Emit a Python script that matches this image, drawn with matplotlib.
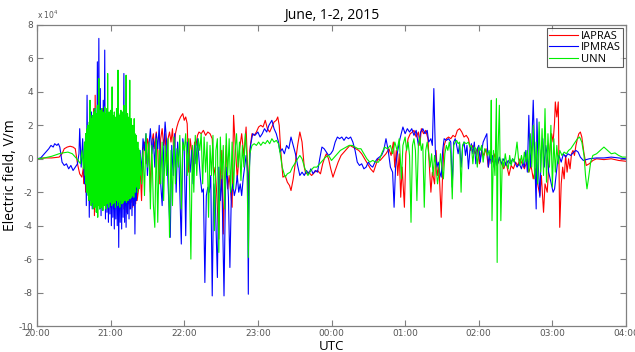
import numpy as np
import matplotlib
matplotlib.use("Agg")
import matplotlib.pyplot as plt
from matplotlib.ticker import FuncFormatter

# Time in hours after 20:00 UTC, field in units of 1e4 V/m
tick_labels = ["20:00", "21:00", "22:00", "23:00", "00:00", "01:00", "02:00", "03:00", "04:00"]
series_names = ["IAPRAS", "IPMRAS", "UNN"]

# IAPRAS (red)
red_start = [(0.00, 0.0), (0.10, 0.05), (0.20, 0.05), (0.30, 0.1), (0.34, 0.3), (0.37, 0.6), (0.41, 0.7),
             (0.45, 0.75), (0.49, 0.7), (0.52, 0.6), (0.55, -0.3), (0.58, -0.9), (0.61, -1.1), (0.63, -0.5)]
# dense part, one value every 0.01 h from 0.64
red_dense = [-1.5, 1.0, -2.0, 1.5, -1.8, 2.0, -2.5, 1.2, -2.2, 2.4, -2.8, 1.8, -2.0, 3.0, -3.4, 3.8,
             -2.5, 2.2, -2.0, 2.8, -2.6, 1.5, -2.2, 2.0, -2.7, 3.0, -2.3, 1.8, -2.5, 2.4, -2.8, 3.0,
             -2.4, 2.0, -2.6, 1.6, -2.9, 2.2, -2.5, 1.8, -3.0, 2.5, -2.6, 1.4, -2.8, 2.0, -3.1, 1.6,
             -2.7, 2.3, -2.9, 2.5, -2.6, 1.2, -3.0, 1.8, -2.8, 1.0, -3.2, 1.5, -2.7, 0.8, -3.0, 1.2,
             -2.6, 0.5, -2.9, 0.8, -2.5, 0.3, -2.7, 0.2, -2.5]
red_end = [
    (1.38, -1.8), (1.40, -0.5), (1.42, -2.5), (1.44, 0.5), (1.46, 1.0), (1.48, -0.3), (1.50, 1.2), (1.52, 0.8),
    (1.54, -2.0), (1.56, 1.0), (1.58, 1.5), (1.60, 0.6), (1.62, 1.6), (1.64, 0.5), (1.66, -1.5), (1.68, 1.2),
    (1.70, 1.8), (1.72, 0.8), (1.74, 1.5), (1.76, -0.5), (1.78, 1.2), (1.80, 1.6), (1.82, 1.0), (1.84, 1.8),
    (1.86, 0.2), (1.88, 1.5), (1.90, 1.9), (1.92, 2.2), (1.95, 2.5), (1.98, 2.7), (2.00, 2.3), (2.02, 2.5),
    (2.04, 2.1), (2.06, -0.8), (2.08, 1.2), (2.10, 0.5), (2.12, -1.0), (2.14, 1.0), (2.16, 0.8), (2.18, 1.4),
    (2.20, 1.6), (2.23, 1.5), (2.26, 1.7), (2.29, 1.4), (2.32, 1.6), (2.35, 1.5), (2.38, 1.2), (2.40, -1.0),
    (2.42, -0.5), (2.44, -2.0), (2.47, -4.8), (2.49, -1.0), (2.51, 0.5), (2.53, -4.5), (2.55, -1.2), (2.57, 0.8),
    (2.59, -1.8), (2.61, -1.0), (2.63, -2.0), (2.65, -2.9), (2.67, 2.6), (2.69, 1.0), (2.72, -1.2), (2.75, 0.5),
    (2.78, 1.5), (2.81, 0.2), (2.84, 1.9), (2.86, -0.5), (2.87, -2.2), (2.89, 0.5), (2.92, 1.5), (2.95, 1.4),
    (2.98, 1.6), (3.01, 1.9), (3.04, 2.0), (3.07, 1.9), (3.10, 2.3), (3.13, 1.8), (3.16, 1.6), (3.19, 1.9),
    (3.22, 2.2), (3.25, 2.3), (3.27, 2.5), (3.29, 2.0), (3.31, 0.5), (3.34, -1.1), (3.37, -1.0), (3.40, -1.4),
    (3.43, -1.6), (3.45, -1.9), (3.48, -1.2), (3.51, -0.2), (3.54, 0.8), (3.57, 1.6), (3.60, 1.0), (3.63, -0.5),
    (3.65, -0.9), (3.69, -0.8), (3.73, -1.0), (3.77, -0.8), (3.81, -0.7), (3.85, -0.9), (3.88, -0.3), (3.91, 0.1),
    (3.93, 0.3), (3.96, 0.0), (3.99, -0.6), (4.02, -1.1), (4.05, -0.7), (4.09, -0.2), (4.13, 0.2), (4.17, 0.4),
    (4.21, 0.6), (4.25, 0.8), (4.29, 0.7), (4.33, 0.6), (4.37, 0.5), (4.41, 0.3), (4.45, 0.0), (4.49, -0.3),
    (4.53, -0.6), (4.57, -0.8), (4.60, -0.4), (4.63, 0.0), (4.66, -0.1), (4.70, 0.1), (4.74, 0.3), (4.78, 0.6),
    (4.81, 0.2), (4.84, 1.0), (4.86, -0.5), (4.88, 0.5), (4.90, -1.0), (4.92, 0.3), (4.94, -2.3), (4.96, -0.5),
    (4.99, -2.9), (5.01, 0.3), (5.04, 1.2), (5.07, 1.5), (5.10, 1.6), (5.12, 1.7), (5.15, 1.3), (5.18, 1.6),
    (5.20, 0.8), (5.22, 1.8), (5.25, 1.5), (5.28, 1.7), (5.31, 1.2), (5.33, -0.5), (5.35, -2.0), (5.37, -0.8),
    (5.40, -1.5), (5.42, 0.5), (5.44, -1.0), (5.46, -0.5), (5.49, -3.5), (5.51, -0.8), (5.53, 0.8), (5.56, 1.2),
    (5.59, 1.3), (5.62, 1.2), (5.65, 1.4), (5.68, 1.3), (5.71, 1.7), (5.74, 1.8), (5.77, 1.6), (5.80, 1.3),
    (5.83, 1.4), (5.86, 1.2), (5.89, 0.5), (5.92, 0.8), (5.95, 0.3), (5.98, 0.6), (6.01, -0.3), (6.04, 0.5),
    (6.07, 0.2), (6.10, 0.6), (6.13, -0.5), (6.16, 0.4), (6.19, -0.2), (6.22, 0.3), (6.25, -0.4), (6.28, 0.0),
    (6.31, -0.3), (6.34, -0.6), (6.37, -0.2), (6.41, -1.0), (6.44, -0.4), (6.47, -0.6), (6.50, -0.2), (6.53, -0.4),
    (6.56, 0.0), (6.59, -0.3), (6.62, -0.6), (6.65, -0.2), (6.68, -0.8), (6.71, -0.4), (6.74, -1.2), (6.77, -0.6),
    (6.80, -1.5), (6.83, -2.2), (6.85, -1.0), (6.88, -3.2), (6.90, -1.5), (6.93, -2.0), (6.95, -0.5), (6.97, 0.8),
    (6.99, 1.5), (7.01, 1.0), (7.03, 2.2), (7.04, 3.4), (7.06, 2.5), (7.08, 3.4), (7.10, -4.1), (7.12, -1.5),
    (7.14, -0.5), (7.16, -1.2), (7.18, 0.2), (7.20, -0.8), (7.22, 0.0), (7.24, -0.6), (7.26, 0.3), (7.28, 0.5),
    (7.30, 0.2), (7.32, 0.8), (7.34, 1.2), (7.36, 1.5), (7.38, 1.6), (7.40, 1.3), (7.43, 0.3), (7.46, -0.4),
    (7.50, -0.3), (7.55, -0.1), (7.60, 0.0), (7.70, -0.05), (7.80, 0.0), (7.90, -0.1), (8.00, -0.15)]

# IPMRAS (blue)
blue_start = [(0.00, 0.0), (0.05, 0.05), (0.08, 0.2), (0.12, 0.4), (0.16, 0.6), (0.19, 0.8), (0.22, 0.7),
              (0.24, 0.9), (0.27, 0.8), (0.29, 0.9), (0.31, 0.7), (0.34, -0.2), (0.37, -0.4), (0.40, -0.3),
              (0.43, -0.6), (0.46, -0.4), (0.49, -0.7), (0.52, -0.5), (0.55, -0.3), (0.57, 0.3), (0.58, 1.8),
              (0.60, -0.5), (0.62, 1.2), (0.64, -1.0)]
# dense part, one value every 0.01 h from 0.65
blue_dense = [-1.5, 1.5, -2.8, 3.8, -1.5, 2.0, -3.5, 1.0, -2.5, 2.8, -3.0, 1.5, -2.0, 3.0, -2.8, 2.0,
              -3.2, 5.8, -2.5, 7.2, -3.0, 4.2, -3.4, 2.5, -3.0, 3.5, -2.6, 6.5, -3.6, 2.0, -3.2, 1.5,
              -3.8, 2.2, -3.3, 1.0, -4.0, 1.8, -3.5, 0.8, -4.2, 1.5, -3.6, 1.0, -4.0, 0.5, -5.3, 1.2,
              -3.8, 0.8, -4.2, 2.0, -3.5, 5.1, -3.8, 1.0, -4.1, 0.5, -3.3, 1.2, -3.6, 0.4, -3.0, 0.8,
              -3.4, 0.2, -2.8, 0.5, -4.5, -0.5, -2.5, -0.8]
blue_end = [
    (1.38, -1.5), (1.40, 0.5), (1.42, -0.8), (1.44, 1.2), (1.46, 0.5), (1.48, 1.5), (1.50, -1.0), (1.52, 0.8),
    (1.54, 1.8), (1.56, 0.3), (1.58, 1.2), (1.60, -0.5), (1.62, 1.5), (1.64, 0.6), (1.66, 2.0), (1.68, -1.5),
    (1.70, -2.8), (1.72, 0.5), (1.74, 2.2), (1.76, 1.0), (1.78, -1.5), (1.81, -4.7), (1.83, 0.8), (1.85, -1.0),
    (1.87, 1.5), (1.89, -2.0), (1.91, 1.0), (1.93, -0.5), (1.96, -5.1), (1.98, 1.2), (2.00, 0.5), (2.02, -4.6),
    (2.04, 1.0), (2.06, 0.2), (2.08, -0.8), (2.10, 0.5), (2.12, -1.5), (2.14, 0.8), (2.16, -0.3), (2.18, 1.2),
    (2.20, 0.0), (2.22, -1.2), (2.24, -2.0), (2.26, -1.8), (2.28, -7.4), (2.30, -2.2), (2.32, -1.7), (2.34, -2.0),
    (2.36, -1.0), (2.38, -8.2), (2.40, -1.5), (2.42, -2.2), (2.45, -7.1), (2.47, -0.5), (2.49, -2.5), (2.51, -1.0),
    (2.54, -8.2), (2.56, -1.8), (2.58, -0.5), (2.60, -2.3), (2.62, -6.5), (2.64, -2.0), (2.66, -1.5), (2.68, -2.2),
    (2.70, -1.8), (2.72, -1.0), (2.74, -2.0), (2.76, -1.5), (2.78, -2.2), (2.80, -1.2), (2.82, -0.5), (2.84, 0.2),
    (2.86, -0.8), (2.87, -8.1), (2.88, -1.0), (2.90, 0.8), (2.93, 1.5), (2.96, 1.4), (3.00, 1.6), (3.03, 1.3),
    (3.06, 1.5), (3.09, 1.8), (3.12, 1.6), (3.15, 2.0), (3.19, 2.3), (3.22, 1.8), (3.25, 1.5), (3.28, 1.0),
    (3.30, 0.4), (3.33, 0.6), (3.36, 0.3), (3.39, 0.8), (3.42, 0.6), (3.45, 1.3), (3.48, 0.8), (3.51, 0.3),
    (3.54, -0.4), (3.57, -1.0), (3.60, -0.8), (3.63, -1.0), (3.66, -0.7), (3.69, -0.9), (3.72, -0.6), (3.75, -0.9),
    (3.78, -0.7), (3.81, -0.8), (3.84, 0.0), (3.87, 0.7), (3.90, 0.6), (3.93, 0.4), (3.96, 0.2), (3.99, 0.3),
    (4.02, 0.5), (4.05, 1.0), (4.08, 1.3), (4.11, 1.2), (4.14, 1.3), (4.17, 1.1), (4.20, 1.3), (4.23, 1.2),
    (4.26, 1.3), (4.29, 1.0), (4.32, 0.5), (4.35, -0.2), (4.38, -0.4), (4.41, -0.3), (4.44, -0.6), (4.47, -0.5),
    (4.50, -0.2), (4.53, -0.4), (4.56, -0.5), (4.59, -0.2), (4.62, 0.0), (4.65, 0.1), (4.68, 0.2), (4.71, 0.5),
    (4.74, 1.2), (4.77, 0.5), (4.80, -0.5), (4.83, -0.8), (4.85, -2.9), (4.87, -0.5), (4.90, 0.5), (4.93, 1.2),
    (4.97, 1.9), (5.00, 1.5), (5.03, 1.8), (5.06, 1.6), (5.09, 1.8), (5.12, 1.4), (5.15, 1.7), (5.18, 0.8),
    (5.21, 1.6), (5.24, 1.8), (5.27, 1.5), (5.30, 1.7), (5.32, 1.0), (5.35, 1.2), (5.37, 0.8), (5.39, 4.2),
    (5.41, 0.5), (5.43, -0.5), (5.45, -0.2), (5.47, -0.8), (5.49, -1.1), (5.51, 0.5), (5.53, 1.2), (5.56, 1.1),
    (5.59, 1.2), (5.62, 1.0), (5.64, -1.7), (5.66, 1.0), (5.68, 1.2), (5.70, 0.8), (5.72, 0.3), (5.74, 0.9),
    (5.76, -0.5), (5.78, 0.7), (5.80, 1.0), (5.82, 0.2), (5.84, 0.8), (5.86, -0.6), (5.88, 0.5), (5.90, 0.9),
    (5.92, 0.3), (5.94, 1.0), (5.96, -0.3), (5.98, 0.6), (6.00, 0.8), (6.02, -0.2), (6.04, 0.5), (6.06, 1.0),
    (6.08, 1.2), (6.11, 1.5), (6.13, -0.5), (6.15, 0.3), (6.17, -0.3), (6.19, 0.2), (6.21, -0.5), (6.23, 0.0),
    (6.25, -0.4), (6.28, 0.1), (6.31, -0.3), (6.34, 0.0), (6.37, -0.4), (6.40, -0.1), (6.43, -0.3), (6.46, 0.0),
    (6.49, -0.2), (6.52, -0.5), (6.55, -0.3), (6.58, -0.6), (6.60, -0.2), (6.62, -0.5), (6.64, 0.5), (6.66, -0.8),
    (6.68, 2.6), (6.70, -0.5), (6.72, 0.8), (6.74, 3.5), (6.76, 0.2), (6.78, -3.0), (6.79, 2.4), (6.81, -0.5),
    (6.83, -2.3), (6.85, 0.5), (6.87, 1.2), (6.89, -0.5), (6.91, 0.8), (6.93, 0.2), (6.95, -0.8), (6.97, -1.2),
    (6.99, -1.6), (7.01, -2.0), (7.03, -1.8), (7.05, -1.0), (7.07, -0.2), (7.09, 0.2), (7.12, -0.2), (7.15, 0.3),
    (7.18, 0.1), (7.21, 0.3), (7.25, 0.2), (7.29, 0.4), (7.32, 0.5), (7.35, 0.4), (7.38, 0.1), (7.42, -0.1),
    (7.50, 0.0), (7.60, 0.05), (7.70, 0.05), (7.80, 0.1), (7.90, 0.05), (8.00, 0.0)]

# UNN (green)
green_start = [(0.00, 0.0), (0.10, 0.05), (0.20, 0.15), (0.30, 0.3), (0.35, 0.35), (0.42, 0.4), (0.48, 0.3),
               (0.52, 0.1), (0.56, -0.1), (0.59, -0.3), (0.61, 0.5), (0.63, -0.6), (0.645, 1.0)]
# dense part, one value every 0.005 h from 0.65
green_dense = [0.8, -1.0, 1.5, -1.5, 1.2, -2.0, 1.8, -1.2, 2.0, -2.2,
               1.5, -2.5, 2.2, -1.8, 3.5, -2.4, 1.8, -2.8, 2.4, -2.0,
               2.6, -2.6, 1.6, -3.0, 2.8, -2.2, 2.0, -2.9, 3.0, -2.5,
               2.2, -3.2, 2.7, -2.4, 3.2, -3.5, 2.5, -2.8, 4.8, -2.6,
               2.3, -3.0, 2.9, -2.5, 2.4, -2.9, 3.0, -2.2, 2.6, -3.1,
               2.8, -2.4, 2.2, -2.8, 3.1, -2.6, 2.5, -3.0, 2.7, -2.3,
               3.0, -2.7, 5.1, -2.5, 2.4, -2.9, 2.8, -2.2, 2.5, -2.6,
               2.9, -2.4, 2.3, -2.8, 4.3, -2.5, 2.6, -2.7, 2.2, -2.3,
               2.8, -2.6, 2.5, -2.9, 2.4, -2.2, 3.0, -2.5, 2.6, -2.8,
               5.3, -2.4, 2.7, -2.6, 2.3, -2.9, 2.6, -2.3, 2.9, -2.5,
               2.4, -2.7, 2.8, -2.2, 2.5, -2.6, 3.2, -2.4, 2.2, -2.5,
               2.6, -2.3, 5.0, -2.6, 2.4, -2.2, 2.7, -2.5, 2.3, -2.4,
               2.5, -2.1, 4.7, -2.4, 2.2, -2.0, 2.4, -2.3, 1.8, -2.2,
               2.0, -1.9, 1.6, -2.3, 2.4, -1.8, 1.5, -2.0, 1.2, -1.7,
               1.4, -1.5, 0.8, -2.0, 1.0, -1.2, 0.6, -1.8, 0.5, -1.0, 0.3]
green_end = [
    (1.42, -1.5), (1.44, 0.5), (1.46, -2.2), (1.48, 1.5), (1.50, -0.5), (1.52, 1.0), (1.54, -3.0), (1.56, 0.8),
    (1.58, -2.7), (1.60, -4.1), (1.62, 1.2), (1.64, -3.8), (1.66, 0.5), (1.68, -1.5), (1.70, 1.0), (1.72, -2.5),
    (1.74, 0.8), (1.76, -1.0), (1.78, 1.2), (1.80, -4.7), (1.82, 0.5), (1.84, -2.8), (1.86, 1.3), (1.88, -1.5),
    (1.90, 0.6), (1.92, -0.5), (1.94, 1.4), (1.96, -3.0), (1.98, 1.0), (2.00, 0.5), (2.02, 1.5), (2.04, -1.0),
    (2.06, 1.2), (2.09, -6.0), (2.11, 0.8), (2.13, -2.0), (2.15, 1.4), (2.17, -1.0), (2.19, 1.2), (2.21, 0.5),
    (2.23, 1.5), (2.25, -1.5), (2.27, 1.3), (2.29, -0.8), (2.31, 1.0), (2.33, -3.5), (2.35, 0.8), (2.37, -1.0),
    (2.39, 1.4), (2.41, -4.3), (2.43, 0.5), (2.45, 1.2), (2.47, -5.6), (2.49, 1.3), (2.51, -1.2), (2.53, 0.8),
    (2.55, -3.0), (2.57, 1.5), (2.59, -1.0), (2.61, 1.2), (2.63, -2.0), (2.65, 1.0), (2.67, -1.8), (2.69, 0.5),
    (2.71, 1.5), (2.73, -0.5), (2.75, 1.0), (2.77, -1.3), (2.79, 0.8), (2.81, -0.5), (2.83, 1.5), (2.85, 0.2),
    (2.87, -5.9), (2.89, 0.3), (2.92, 0.8), (2.95, 0.9), (2.98, 0.8), (3.01, 1.0), (3.04, 0.8), (3.07, 1.0),
    (3.10, 0.9), (3.13, 1.1), (3.16, 0.9), (3.19, 1.2), (3.22, 1.0), (3.25, 1.1), (3.28, 0.9), (3.30, 0.4),
    (3.33, -0.5), (3.37, -1.1), (3.40, -0.9), (3.44, -0.8), (3.47, -0.5), (3.50, -0.3), (3.54, 0.0), (3.57, 0.2),
    (3.60, 0.0), (3.64, -0.6), (3.68, -1.0), (3.72, -0.7), (3.76, -0.5), (3.80, -0.5), (3.84, -0.3), (3.88, -0.1),
    (3.92, 0.1), (3.96, 0.2), (4.00, -0.1), (4.04, 0.1), (4.08, 0.3), (4.12, 0.5), (4.16, 0.6), (4.20, 0.7),
    (4.24, 0.8), (4.28, 0.8), (4.32, 0.7), (4.36, 0.6), (4.40, 0.6), (4.44, 0.3), (4.48, 0.0), (4.52, -0.2),
    (4.56, -0.1), (4.60, -0.2), (4.64, -0.2), (4.68, 0.3), (4.72, 0.7), (4.76, 0.6), (4.80, 0.8), (4.83, 0.3),
    (4.86, 1.0), (4.89, 0.5), (4.92, 1.2), (4.95, -1.2), (4.97, 0.8), (5.00, 1.3), (5.02, 0.5), (5.04, 1.0),
    (5.06, 0.2), (5.08, -3.8), (5.10, 0.8), (5.12, 1.2), (5.14, 0.5), (5.16, -2.5), (5.18, 0.8), (5.20, 1.3),
    (5.22, 0.5), (5.24, 0.9), (5.26, -2.9), (5.28, 0.5), (5.30, 1.0), (5.32, 0.3), (5.34, -0.5), (5.36, 0.3),
    (5.38, -1.0), (5.40, 0.2), (5.42, -0.5), (5.44, -1.5), (5.46, -0.8), (5.48, 0.3), (5.50, -0.5), (5.52, -1.2),
    (5.54, 0.3), (5.56, 0.8), (5.58, 0.5), (5.60, 1.0), (5.62, 0.3), (5.64, -2.4), (5.66, 0.8), (5.68, 1.0),
    (5.70, 1.1), (5.72, 0.9), (5.74, 1.0), (5.76, -2.0), (5.78, 0.8), (5.80, 1.0), (5.83, 0.9), (5.86, 1.0),
    (5.88, 0.7), (5.90, 0.8), (5.92, -0.3), (5.94, 0.7), (5.96, 0.6), (5.98, -0.5), (6.00, 0.7), (6.02, 0.5),
    (6.04, 0.8), (6.06, -0.2), (6.08, 0.6), (6.10, 0.5), (6.12, 0.2), (6.14, 0.5), (6.16, 0.0), (6.17, 3.5),
    (6.18, -3.7), (6.20, 0.5), (6.22, -1.0), (6.24, 3.6), (6.25, -6.2), (6.26, 0.2), (6.28, 3.2), (6.30, -3.7),
    (6.32, 0.0), (6.34, -0.5), (6.36, 0.3), (6.38, -0.3), (6.40, -0.6), (6.42, 0.2), (6.44, -0.4), (6.46, 0.0),
    (6.48, -0.2), (6.50, 0.3), (6.52, 1.0), (6.54, 0.0), (6.56, -0.4), (6.58, 0.2), (6.60, -0.3), (6.62, 0.4),
    (6.64, -0.2), (6.66, 0.5), (6.68, -0.8), (6.70, 1.5), (6.72, -0.5), (6.74, 2.0), (6.76, -1.2), (6.78, 1.0),
    (6.80, -1.5), (6.82, 2.2), (6.84, -0.8), (6.86, 1.8), (6.88, -1.0), (6.90, 3.0), (6.92, -1.4), (6.94, 1.5),
    (6.96, -0.5), (6.98, 2.0), (7.00, -1.7), (7.02, 1.2), (7.04, -0.8), (7.06, 0.8), (7.08, -0.3), (7.10, 0.5),
    (7.13, 0.2), (7.16, 0.4), (7.19, 0.3), (7.22, 0.5), (7.25, 0.6), (7.28, 0.8), (7.31, 1.0), (7.34, 1.2),
    (7.37, 1.3), (7.40, 1.0), (7.43, 0.2), (7.45, -1.0), (7.47, -1.8), (7.49, -1.2), (7.52, -0.2), (7.55, 0.2),
    (7.60, 0.3), (7.65, 0.5), (7.70, 0.7), (7.75, 0.5), (7.80, 0.3), (7.85, 0.35), (7.90, 0.2), (7.95, 0.1),
    (8.00, 0.1)]


def build(start, dense, t0, step, end):
    t = [p[0] for p in start] + list(t0 + step * np.arange(len(dense))) + [p[0] for p in end]
    v = [p[1] for p in start] + dense + [p[1] for p in end]
    return np.array(t), np.array(v) * 1e4


red_t, red_v = build(red_start, red_dense, 0.64, 0.01, red_end)
blue_t, blue_v = build(blue_start, blue_dense, 0.65, 0.01, blue_end)
green_t, green_v = build(green_start, green_dense, 0.65, 0.005, green_end)

fig = plt.figure(figsize=(6.35, 3.52), dpi=100)
ax = fig.add_axes([37 / 635, 26 / 352, 589 / 635, 301 / 352])

ax.plot(red_t, red_v, color="#ff0000", lw=0.8, label=series_names[0])
ax.plot(blue_t, blue_v, color="#0000ff", lw=0.8, label=series_names[1])
ax.plot(green_t, green_v, color="#00ee00", lw=0.8, label=series_names[2])

ax.set_xlim(0, 8)
ax.set_ylim(-10e4, 8e4)
ax.set_xticks(range(9))
ax.set_xticklabels(tick_labels)
ax.set_yticks(np.arange(-10, 9, 2) * 1e4)
ax.yaxis.set_major_formatter(FuncFormatter(lambda v, p: f"{v / 1e4:g}"))
ax.tick_params(direction="in", top=True, right=True, length=4, width=0.8,
               color="#808080", labelcolor="#555555", labelsize=6.5, pad=3)
ax.tick_params(axis="x", pad=2)
for s in ax.spines.values():
    s.set_color("#808080")
    s.set_linewidth(0.9)

ax.text(0.0, 1.012, r"x 10$^4$", transform=ax.transAxes, fontsize=5.5, color="#555555",
        ha="left", va="bottom")
ax.set_title("June, 1-2, 2015", fontsize=10, family="Open Sans", pad=4)
ax.set_xlabel("UTC", fontsize=9.5, family="Open Sans")
ax.set_ylabel("Electric field, V/m", fontsize=10, family="Open Sans")
ax.xaxis.set_label_coords(0.5, -0.046)
ax.yaxis.set_label_coords(-0.033, 0.5)

leg = ax.legend(loc="upper right", frameon=True, fancybox=False, handlelength=2.6,
                handletextpad=0.2, borderpad=0.2, labelspacing=0.05, borderaxespad=0.3,
                prop={"family": "Open Sans", "size": 8})
leg.get_frame().set_edgecolor("#333333")
leg.get_frame().set_linewidth(0.8)

fig.savefig("out.png", dpi=100)
